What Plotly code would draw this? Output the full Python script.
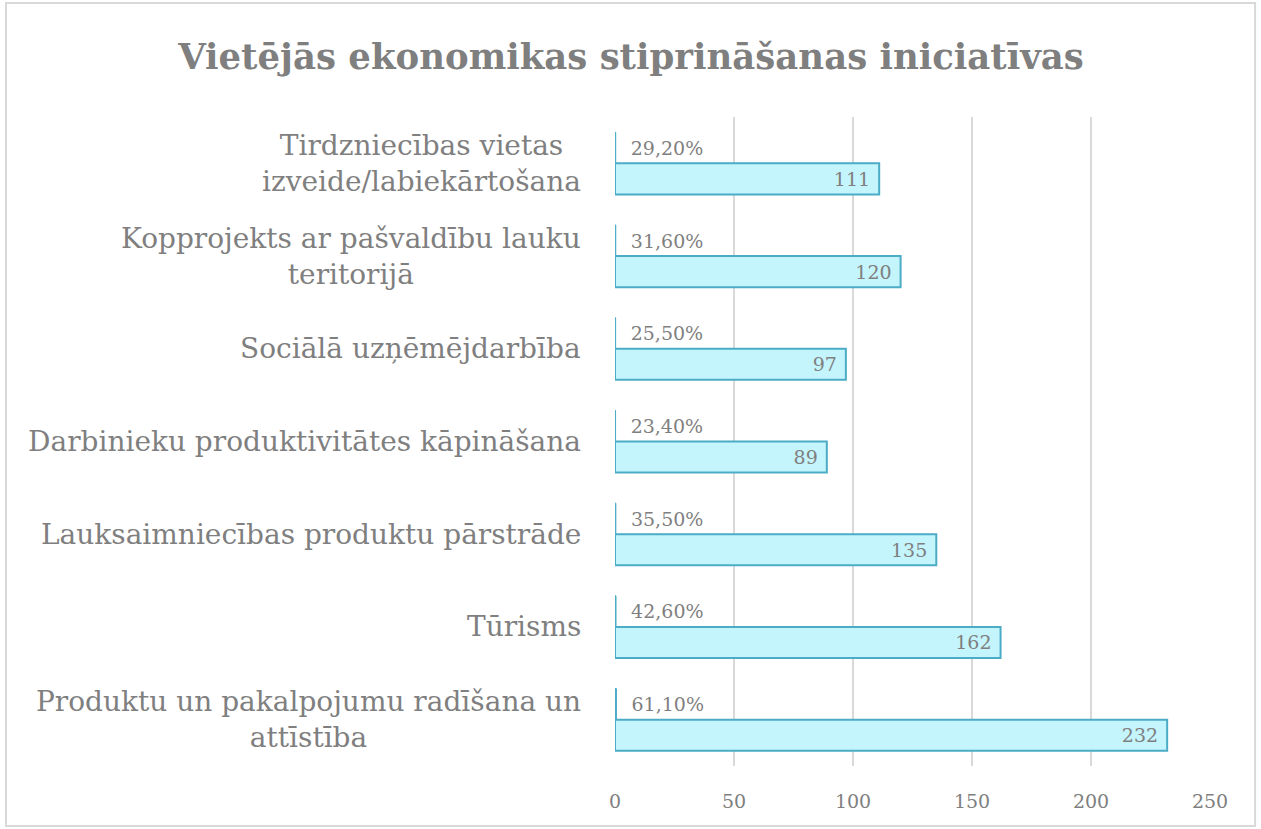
import plotly.graph_objects as go

categories = [
    "Tirdzniecības vietas<br>izveide/labiekārtošana",
    "Kopprojekts ar pašvaldību lauku<br>teritorijā",
    "Sociālā uzņēmējdarbība",
    "Darbinieku produktivitātes kāpināšana",
    "Lauksaimniecības produktu pārstrāde",
    "Tūrisms",
    "Produktu un pakalpojumu radīšana un<br>attīstība",
]
counts = [111, 120, 97, 89, 135, 162, 232]
percents = [29.2, 31.6, 25.5, 23.4, 35.5, 42.6, 61.1]
x_ticks = [0, 50, 100, 150, 200, 250]
title = "Vietējās ekonomikas stiprināšanas iniciatīvas"

W, H = 1261, 829
ML, MR, MT, MB = 615, 51, 117, 63
FONT = "DejaVu Serif, Liberation Serif, serif"
GREY = "#7f7f7f"
TEAL = "#4bacc6"

pw = W - ML - MR
ph = H - MT - MB

def px_x(p):
    return (p - ML) / pw

def px_y(p):
    return 1 - (p - MT) / ph

fig = go.Figure()
fig.add_trace(go.Bar(
    y=categories, x=[p / 100 for p in percents], orientation="h",
    marker=dict(color=TEAL, line=dict(color=TEAL, width=1)),
    texttemplate="\u00a0\u00a0%{x:.2%}", textposition="outside",
    textfont=dict(family=FONT, size=19, color=GREY),
    cliponaxis=False, hoverinfo="skip", showlegend=False,
))
fig.add_trace(go.Bar(
    y=categories, x=counts, orientation="h",
    marker=dict(color="#c4f4fc", line=dict(color=TEAL, width=2)),
    texttemplate="%{x}\u00a0", textposition="inside", insidetextanchor="end",
    textfont=dict(family=FONT, size=19, color=GREY),
    constraintext="none", hoverinfo="skip", showlegend=False,
))

annotations = [
    dict(x=0, xref="paper", y=c, yref="y", text=c, showarrow=False,
         xanchor="right", yanchor="middle", align="center", xshift=-32,
         font=dict(family=FONT, size=28, color=GREY))
    for c in categories
]

fig.update_layout(
    width=W, height=H,
    margin=dict(l=ML, r=MR, t=MT, b=MB),
    paper_bgcolor="white", plot_bgcolor="white",
    barmode="group", bargap=0.33, bargroupgap=0,
    separators=",.",
    title=dict(text=f"<b>{title}</b>", x=631 / W, xref="container", xanchor="center",
               y=1 - 57 / H, yref="container", yanchor="middle",
               font=dict(family=FONT, size=35.5, color=GREY)),
    xaxis=dict(range=[0, 250], tickvals=x_ticks, showgrid=True, gridcolor="#d9d9d9",
               gridwidth=2, zeroline=False, showline=False, ticks="",
               tickfont=dict(family=FONT, size=19, color=GREY), ticklabelstandoff=22),
    yaxis=dict(autorange="reversed", showticklabels=False, showgrid=False,
               zeroline=False, showline=False, ticks=""),
    annotations=annotations,
    shapes=[dict(type="rect", xref="paper", yref="paper",
                 x0=px_x(6), x1=px_x(1255), y0=px_y(826), y1=px_y(3),
                 line=dict(color="#d9d9d9", width=2), fillcolor="rgba(0,0,0,0)",
                 layer="below")],
)

fig.write_html("out.html", config={"displayModeBar": False},
               post_script="document.body.style.margin='0px';")
